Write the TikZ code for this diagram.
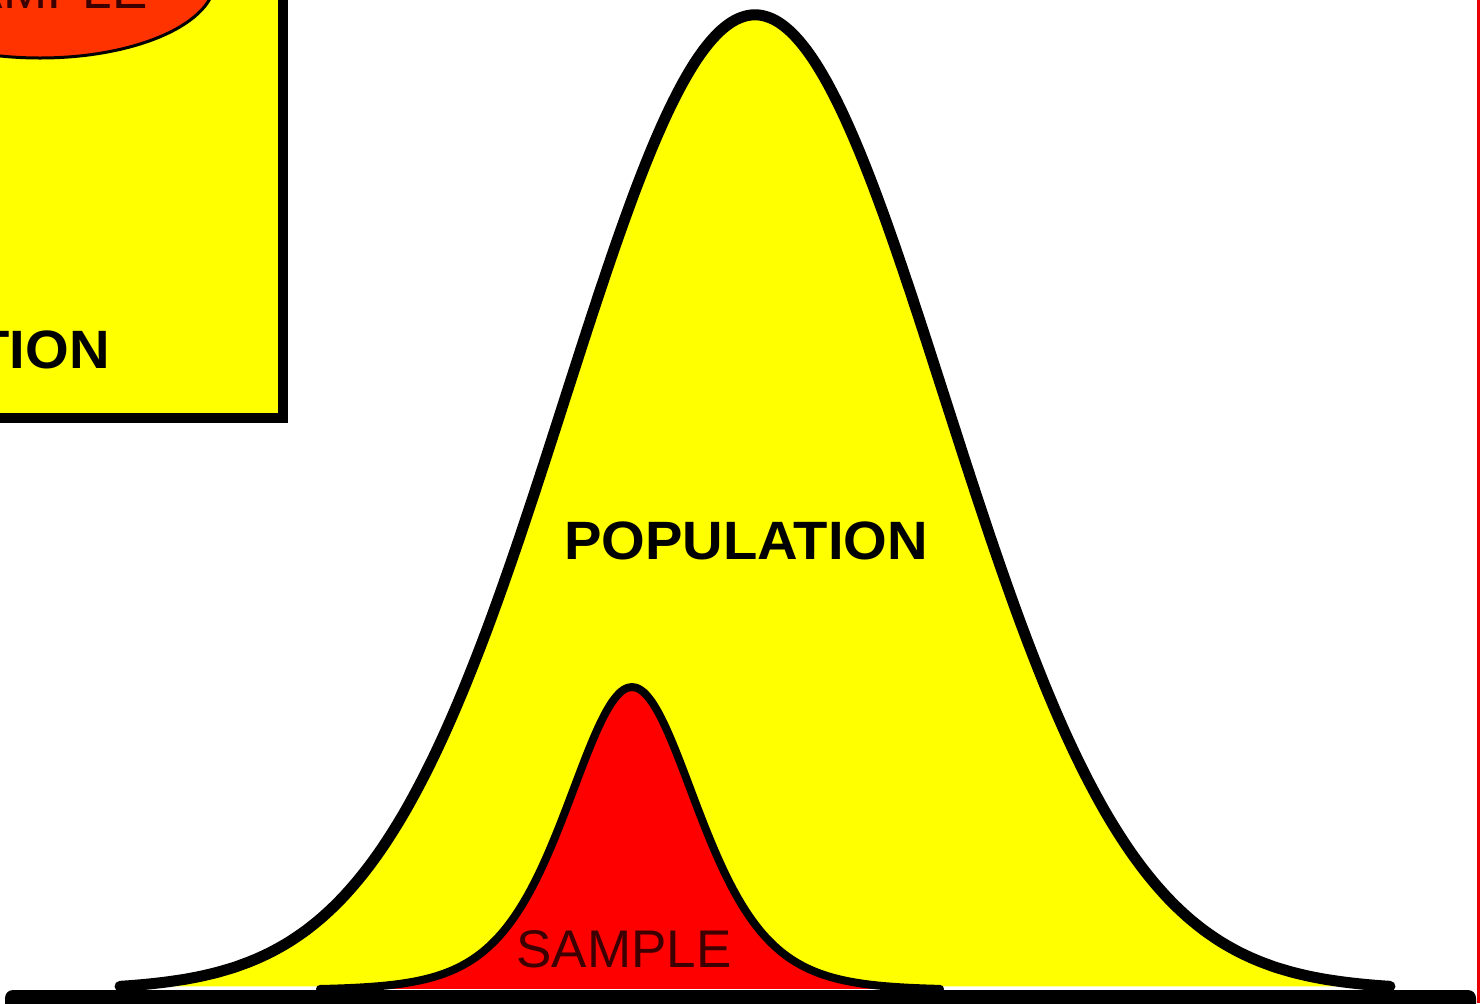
\documentclass[tikz,border=0pt]{standalone}
\usepackage{fontspec}
\setmainfont{Liberation Sans}
\definecolor{bellyellow}{RGB}{255,255,0}
\definecolor{bellred}{RGB}{255,0,0}
\definecolor{ovalred}{RGB}{255,51,0}
\definecolor{samplefont}{RGB}{60,0,0}
\definecolor{edgered}{RGB}{235,0,0}
\begin{document}
\begin{tikzpicture}[x=0.5pt,y=-0.5pt,
  bigline/.style={line width=5.5pt, line join=round, line cap=round},
  smallline/.style={line width=4pt, line join=round, line cap=round},
  boldlabel/.style={font=\fontsize{27pt}{30pt}\selectfont\bfseries, text=black, inner sep=0pt, xscale=1.04},
  plainlabel/.style={font=\fontsize{26.5pt}{30pt}\selectfont, text=samplefont, inner sep=0pt}]
\useasboundingbox (0,0) rectangle (1480,1003);
\clip (0,0) rectangle (1480,1003);
\fill[white] (0,0) rectangle (1480,1003);
% inset box (cut off at the top left)
\filldraw[fill=bellyellow, draw=black, line width=5pt] (-40,-40) rectangle (283,418);
\filldraw[fill=ovalred, draw=black, line width=1.5pt] (40,-20) ellipse [x radius=175, y radius=78];
\node[plainlabel, anchor=base east] (ovaltext) at (148,8) {SAMPLE};
\node[boldlabel, anchor=base east] (boxtext) at (110,368) {POPULATION};
% population bell
\fill[bellyellow] plot[domain=120:1390, samples=240, smooth] (\x, {990-975*exp(-0.5*((\x-755)/190)^2)}) -- cycle;
\draw[bigline] plot[domain=120:1390, samples=240, smooth] (\x, {990-975*exp(-0.5*((\x-755)/190)^2)});
% sample bell
\fill[bellred] plot[domain=320:940, samples=160, smooth] (\x, {990-303/(cosh((\x-632)/88))^2}) -- cycle;
\draw[smallline] plot[domain=320:940, samples=160, smooth] (\x, {990-303/(cosh((\x-632)/88))^2});
% baseline
\fill[black, rounded corners=4pt] (5,990) rectangle (1476,1012);
% labels
\node[boldlabel] (poplabel) at (746,541) {POPULATION};
\node[plainlabel, anchor=base] (samplelabel) at (624,967) {SAMPLE};
% right edge line
\draw[edgered, line width=1.5pt] (1478.5,0) -- (1478.5,1003);
\end{tikzpicture}
\end{document}
